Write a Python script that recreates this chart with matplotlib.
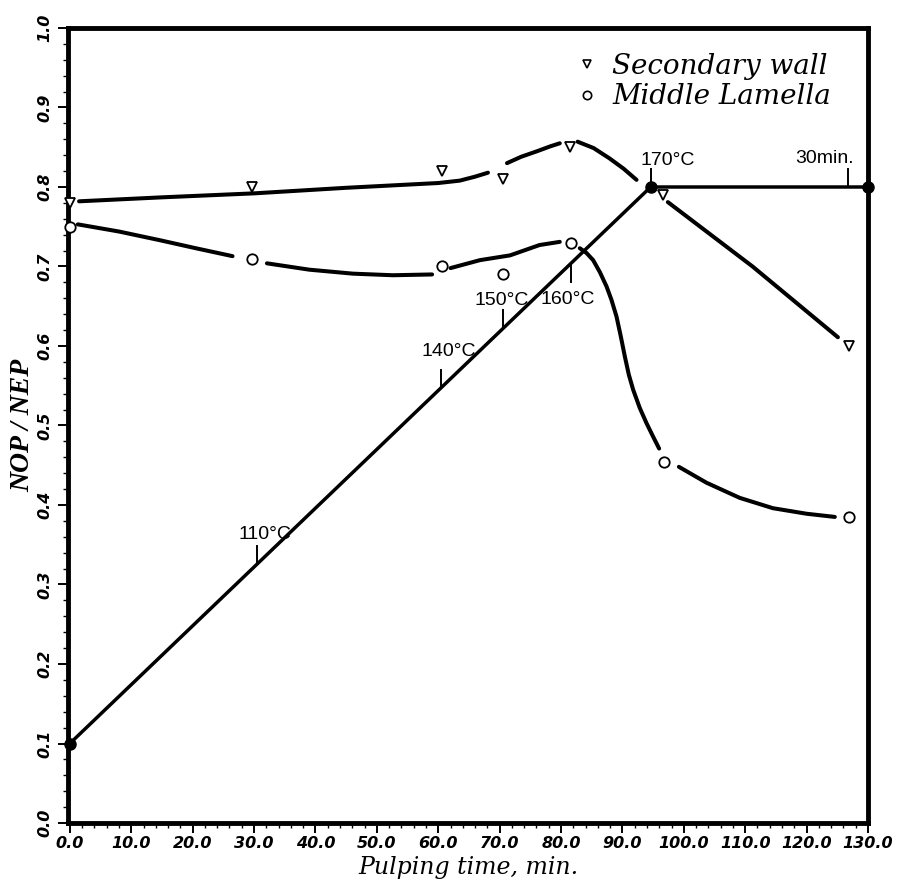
import numpy as np
import matplotlib.pyplot as plt
from matplotlib.lines import Line2D

# measured points
sw_t = [0, 29.6, 60.6, 70.5, 81.4, 96.6, 126.9]
sw_v = [0.78, 0.80, 0.82, 0.81, 0.85, 0.79, 0.60]
ml_t = [0, 29.6, 60.6, 70.5, 81.6, 96.7, 126.9]
ml_v = [0.75, 0.71, 0.70, 0.69, 0.73, 0.454, 0.385]

# hand-drawn fitted curves, drawn in pieces with gaps
sw_curve = [
    ([1.5, 15, 30, 45, 60, 63.5, 66, 68.1], [0.782, 0.787, 0.792, 0.799, 0.805, 0.808, 0.813, 0.818]),
    ([71.2, 73.5, 76.1, 78.2, 79.8], [0.830, 0.838, 0.845, 0.851, 0.855]),
    ([82.7, 85.3, 87.9, 90.2, 92.3], [0.857, 0.849, 0.836, 0.823, 0.809]),
    ([97.4, 111.2, 125.1], [0.781, 0.700, 0.611]),
]
ml_curve = [
    ([1.3, 8, 14.7, 20.5, 26.5], [0.753, 0.744, 0.733, 0.723, 0.713]),
    ([32.1, 39, 46.1, 52.6, 59.0], [0.704, 0.696, 0.691, 0.689, 0.690]),
    ([62.0, 66.8, 71.7, 76.5, 79.8], [0.698, 0.708, 0.714, 0.727, 0.731]),
    ([83.06, 84.15, 85.23, 86.32, 87.41, 88.22, 89.04, 89.74, 90.39, 91.04, 91.75, 92.83, 93.92, 95.0, 95.98],
     [0.723, 0.717, 0.708, 0.693, 0.675, 0.658, 0.637, 0.612, 0.587, 0.564, 0.545, 0.522, 0.503, 0.486, 0.471]),
    ([99.2, 103.7, 109.1, 114.5, 120.0, 124.6], [0.448, 0.428, 0.409, 0.396, 0.389, 0.385]),
]

# temperature program line
temp_t = [0, 94.6, 130]
temp_v = [0.10, 0.80, 0.80]
mark_t = [30.5, 60.4, 70.5, 81.6, 94.6, 126.7]
mark_lbl = ['110°C', '140°C', '150°C', '160°C', '170°C', '30min.']
mark_dir = [1, 1, 1, -1, 1, 1]
lbl_off = [(6, 5), (6, 10), (-1, 4), (-2, -7), (12, 3), (-17, 4)]

fig = plt.figure(figsize=(9, 8.8), dpi=100)
ax = fig.add_axes([68/900, 57/880, 800/900, 795/880])

for tt, vv in sw_curve:
    ax.plot(tt, vv, color='black', lw=2.9, solid_capstyle='round', solid_joinstyle='round', zorder=2)
for tt, vv in ml_curve:
    ax.plot(tt, vv, color='black', lw=2.9, solid_capstyle='round', solid_joinstyle='round', zorder=2)

ax.plot(temp_t, temp_v, color='black', lw=2.5, marker='o', ms=8, zorder=3, clip_on=False)

base = np.interp(mark_t, temp_t, temp_v)
for t, b, lab, d, off in zip(mark_t, base, mark_lbl, mark_dir, lbl_off):
    end = b + d*0.023
    ax.plot([t, t], [b, end], color='black', lw=1.4, zorder=3)
    ax.annotate(lab, xy=(t, end), xytext=off, textcoords='offset points',
                ha='center', va='baseline' if d > 0 else 'top',
                fontsize=14, family='Liberation Sans')

ax.plot(sw_t, sw_v, ls='none', marker='v', ms=7.5, mfc='white', mec='black', mew=1.3, zorder=4, clip_on=False)
ax.plot(ml_t, ml_v, ls='none', marker='o', ms=7.5, mfc='white', mec='black', mew=1.3, zorder=4, clip_on=False)

ax.set_xlim(-0.3, 130)
ax.set_ylim(0, 1.0)
ax.set_xticks(np.arange(0, 131, 10))
ax.set_xticks(np.arange(0, 131, 2), minor=True)
ax.set_yticks(np.arange(0, 1.01, 0.1))
ax.set_yticks(np.arange(0, 1.001, 0.02), minor=True)
ax.set_xticklabels(['%.1f' % v for v in np.arange(0, 131, 10)])
ax.set_yticklabels(['%.1f' % v for v in np.arange(0, 1.01, 0.1)], rotation=90, va='center')
for lab in ax.get_xticklabels() + ax.get_yticklabels():
    lab.set_fontfamily('DejaVu Sans')
    lab.set_fontweight('bold')
    lab.set_fontstyle('italic')
    lab.set_fontsize(11.5)

ax.tick_params(which='major', direction='out', length=7, width=1.4, pad=4)
ax.tick_params(axis='x', which='major', pad=2)
ax.tick_params(which='minor', direction='out', length=3.5, width=1.0)
ax.tick_params(top=False, right=False)
for s in ax.spines.values():
    s.set_linewidth(3.5)

ax.set_xlabel('Pulping time, min.', family='DejaVu Serif', style='italic', fontsize=17, va='baseline')
ax.xaxis.set_label_coords(0.5, -0.064)
ax.set_ylabel('NOP / NEP', family='Liberation Serif', style='italic', weight='bold', fontsize=20, labelpad=2)

handles = [Line2D([], [], ls='none', marker='v', ms=6, mfc='white', mec='black', mew=1.2),
           Line2D([], [], ls='none', marker='o', ms=6, mfc='white', mec='black', mew=1.2)]
ax.legend(handles, ['Secondary wall', 'Middle Lamella'], loc='upper right',
          bbox_to_anchor=(0.985, 1.0), frameon=False, handletextpad=0.3, labelspacing=0.12,
          handlelength=1.2, prop={'family': 'DejaVu Serif', 'style': 'italic', 'size': 20})

fig.savefig('out.png')
